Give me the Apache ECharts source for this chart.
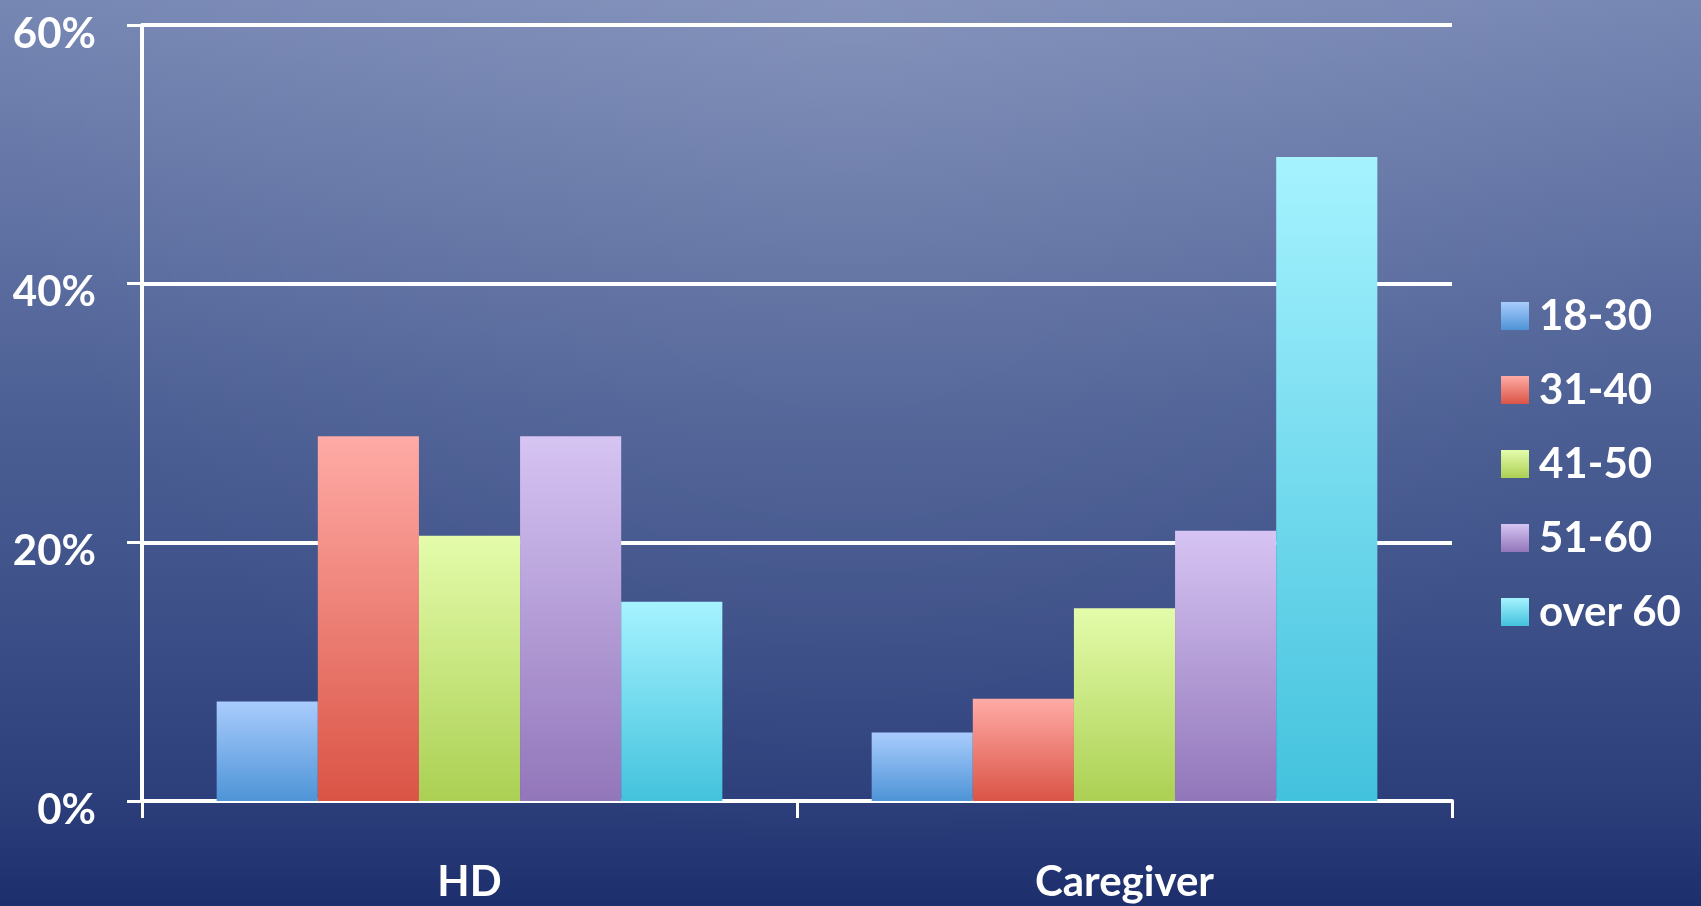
<!DOCTYPE html>
<html>
<head>
<meta charset="utf-8">
<script src="https://cdn.jsdelivr.net/npm/echarts@6/dist/echarts.min.js"></script>
<style>
html,body{margin:0;padding:0;width:1701px;height:906px;overflow:hidden;}
#chart{width:1701px;height:906px;}
</style>
</head>
<body>
<div id="chart"></div>
<script>
var categories = ['HD', 'Caregiver'];
var seriesNames = ['18-30', '31-40', '41-50', '51-60', 'over 60'];
var age18_30 = [7.7, 5.3];
var age31_40 = [28.2, 7.9];
var age41_50 = [20.5, 14.9];
var age51_60 = [28.2, 20.9];
var over60 = [15.4, 49.8];
var yTicks = [0, 20, 40, 60];

var topColors = ['#a9ccfd', '#ffaba6', '#e4fcab', '#d6c4f3', '#a6f3ff'];
var bottomColors = ['#4e94d7', '#da5445', '#abd053', '#9276ba', '#43c2dd'];
var seriesData = [age18_30, age31_40, age41_50, age51_60, over60];

function grad(i) {
  return new echarts.graphic.LinearGradient(0, 0, 0, 1, [
    {offset: 0, color: topColors[i]},
    {offset: 1, color: bottomColors[i]}
  ]);
}

var FONT = 'Lato, "Open Sans", sans-serif';
var chart = echarts.init(document.getElementById('chart'));
var series = seriesNames.map(function (name, i) {
  return {
    name: name,
    type: 'bar',
    data: seriesData[i],
    barGap: '0%',
    barCategoryGap: '22.8%',
    itemStyle: {color: grad(i)},
    emphasis: {disabled: true}
  };
});

chart.setOption({
  animation: false,
  backgroundColor: new echarts.graphic.LinearGradient(0, 0, 0, 1, [
    {offset: 0, color: '#7787b4'},
    {offset: 0.45, color: '#4d6095'},
    {offset: 0.66, color: '#3e5189'},
    {offset: 0.88, color: '#2c3f7b'},
    {offset: 1, color: '#1d2e6c'}
  ]),
  graphic: [{
    type: 'rect',
    z: -10,
    silent: true,
    shape: {x: 0, y: 0, width: 1701, height: 906},
    style: {
      fill: new echarts.graphic.RadialGradient(0.5, 0, 0.95, [
        {offset: 0, color: 'rgba(255,255,255,0.10)'},
        {offset: 1, color: 'rgba(255,255,255,0)'}
      ])
    }
  }],
  grid: {left: 142, right: 249, top: 25, bottom: 105, containLabel: false, outerBoundsMode: 'none'},
  legend: {
    orient: 'vertical',
    left: 1501,
    top: 295,
    padding: 0,
    itemWidth: 28,
    itemHeight: 28,
    itemGap: 32,
    icon: 'rect',
    data: seriesNames,
    textStyle: {color: '#ffffff', fontSize: 42, fontWeight: 'bold', fontFamily: FONT, lineHeight: 40, padding: [0, 0, 0, 5]}
  },
  xAxis: {
    type: 'category',
    data: categories,
    axisLine: {lineStyle: {color: '#ffffff', width: 4}},
    axisTick: {show: true, length: 17, lineStyle: {color: '#ffffff', width: 3}},
    axisLabel: {color: '#ffffff', fontSize: 42, fontWeight: 'bold', fontFamily: FONT, margin: 60},
    splitLine: {show: false}
  },
  yAxis: {
    type: 'value',
    min: 0,
    max: 60,
    interval: 20,
    axisLine: {show: true, lineStyle: {color: '#ffffff', width: 4}},
    axisTick: {show: true, length: 15, lineStyle: {color: '#ffffff', width: 3}},
    axisLabel: {
      color: '#ffffff', margin: 46,
      formatter: function (v) { return yTicks.indexOf(v) >= 0 ? '{p|' + v + '%}' : ''; },
      rich: {
        p: {color: '#ffffff', fontSize: 42, fontWeight: 'bold', fontFamily: FONT, lineHeight: 42, padding: [18, 0, 0, 0]}
      }
    },
    splitLine: {show: true, lineStyle: {color: '#ffffff', width: 4}}
  },
  series: series
});
</script>
</body>
</html>
